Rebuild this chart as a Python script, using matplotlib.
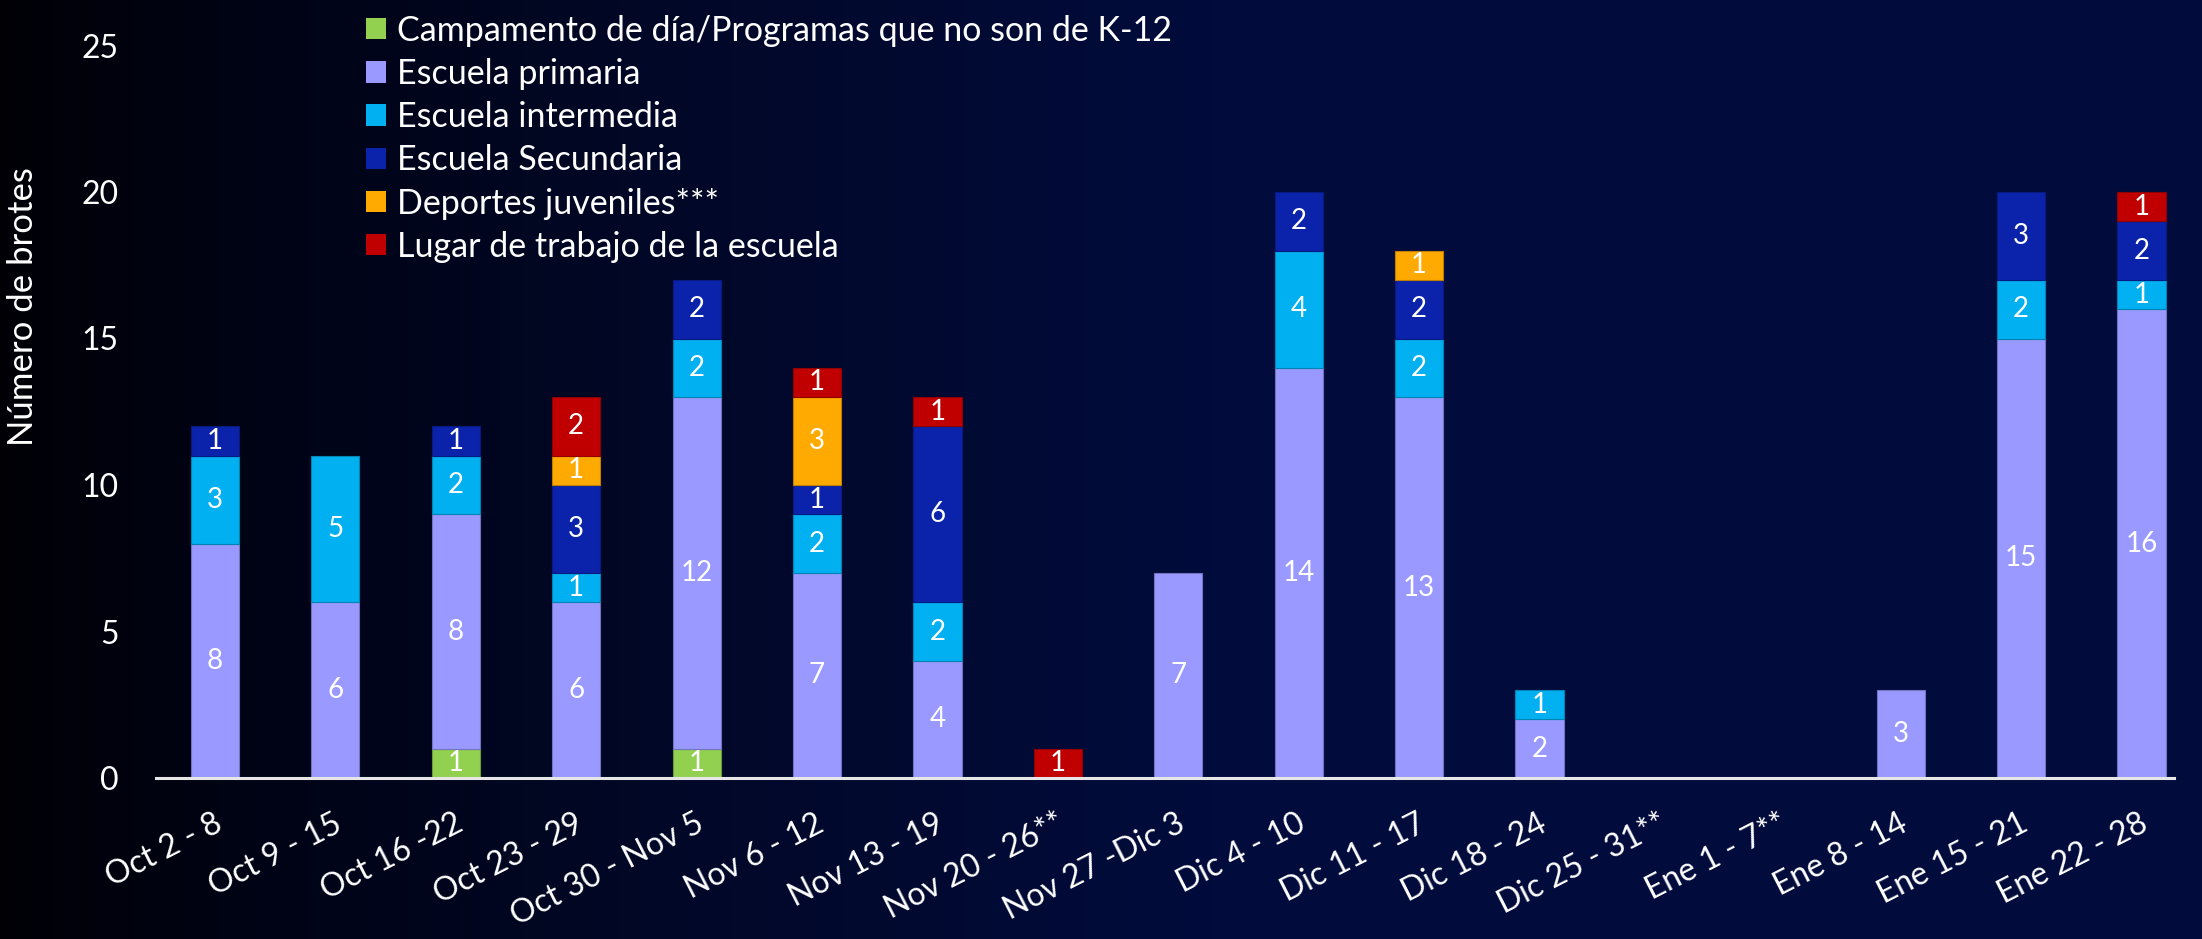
import numpy as np
import matplotlib
matplotlib.use("Agg")
import matplotlib.pyplot as plt
from matplotlib.patches import Patch
from matplotlib.colors import to_rgb
import matplotlib.transforms as mtransforms

categories = ["Oct 2 - 8", "Oct 9 - 15", "Oct 16 -22", "Oct 23 - 29", "Oct 30 - Nov 5",
              "Nov 6 - 12", "Nov 13 - 19", "Nov 20 - 26**", "Nov 27 -Dic 3", "Dic 4 - 10",
              "Dic 11 - 17", "Dic 18 - 24", "Dic 25 - 31**", "Ene 1 - 7**", "Ene 8 - 14",
              "Ene 15 - 21", "Ene 22 - 28"]

campamento = [0, 0, 1, 0, 1, 0, 0, 0, 0, 0, 0, 0, 0, 0, 0, 0, 0]
primaria   = [8, 6, 8, 6, 12, 7, 4, 0, 7, 14, 13, 2, 0, 0, 3, 15, 16]
intermedia = [3, 5, 2, 1, 2, 2, 2, 0, 0, 4, 2, 1, 0, 0, 0, 2, 1]
secundaria = [1, 0, 1, 3, 2, 1, 6, 0, 0, 2, 2, 0, 0, 0, 0, 3, 2]
deportes   = [0, 0, 0, 1, 0, 3, 0, 0, 0, 0, 1, 0, 0, 0, 0, 0, 0]
trabajo    = [0, 0, 0, 2, 0, 1, 1, 1, 0, 0, 0, 0, 0, 0, 0, 0, 1]

series_names = ["Campamento de día/Programas que no son de K-12", "Escuela primaria",
                "Escuela intermedia", "Escuela Secundaria", "Deportes juveniles***",
                "Lugar de trabajo de la escuela"]
series = [campamento, primaria, intermedia, secundaria, deportes, trabajo]
colors = ["#92D050", "#9999FF", "#00B0F0", "#0A23AA", "#FFAA00", "#C00000"]

FONT = "Lato"
W, H = 2202, 939
fig = plt.figure(figsize=(W / 100, H / 100), dpi=100)

# background gradient
bg = fig.add_axes([0, 0, 1, 1], zorder=-10)
bg.axis("off")
xs = np.linspace(0, 1, 600)
t = np.clip(xs / 0.55, 0, 1) ** 0.8
c0 = np.array([0.0, 0.0, 0.02])
c1 = np.array([2, 12, 60]) / 255
grad = c0[None, :] + (c1 - c0)[None, :] * t[:, None]
bg.imshow(grad[None, :, :], aspect="auto", extent=[0, 1, 0, 1])
bg.set_xlim(0, 1); bg.set_ylim(0, 1)

ax = fig.add_axes([156 / W, 1 - 778 / H, (2174 - 156) / W, (778 - 45.5) / H])
ax.set_facecolor("none")

x = np.arange(len(categories))
bottom = np.zeros(len(categories))
handles = []
for name, vals, col in zip(series_names, series, colors):
    vals = np.array(vals, dtype=float)
    edge = tuple(np.array(to_rgb(col)) * 0.75)
    edges = [edge if v > 0 else "none" for v in vals]
    ax.bar(x, vals, width=0.4, bottom=bottom, color=col, edgecolor=edges, linewidth=0.8, zorder=3)
    for xi, v, b in zip(x, vals, bottom):
        if v > 0:
            ax.text(xi, b + v / 2, f"{int(v)}", ha="center", va="center", color="white",
                    fontsize=20, family=FONT, zorder=4)
    bottom += vals
    handles.append(Patch(facecolor=col, edgecolor="none"))

ax.set_ylim(0, 25)
ax.set_xlim(-0.49, 16.27)
ax.set_yticks([0, 5, 10, 15, 20, 25])
ax.tick_params(axis="y", length=0, pad=27, labelsize=23, labelcolor="white")
ax.tick_params(axis="x", length=0, pad=22)
for lab in ax.get_yticklabels():
    lab.set_family(FONT)
ax.set_xticks(x)
ax.set_xticklabels(categories, rotation=27, ha="right", rotation_mode="anchor",
                   fontsize=23, color="white", family=FONT)
offset = mtransforms.ScaledTranslation(-0.02, 0, fig.dpi_scale_trans)
for lab in ax.get_xticklabels():
    lab.set_transform(lab.get_transform() + offset)
for s in ["top", "right", "left"]:
    ax.spines[s].set_visible(False)
ax.spines["bottom"].set_color("#e6e6e6")
ax.spines["bottom"].set_linewidth(2.2)
ax.spines["bottom"].set_zorder(5)

ax.set_ylabel("Número de brotes", fontsize=25, color="white", family=FONT)
ax.yaxis.set_label_coords(-0.058, 0.643)

leg = fig.legend(handles, series_names, loc="upper left", bbox_to_anchor=(352 / W, 1 - 1 / H),
                 frameon=False, labelcolor="white", handlelength=0.59, handleheight=0.59,
                 handletextpad=0.32, labelspacing=0.33, borderaxespad=0,
                 prop={"family": FONT, "size": 24.5})

fig.savefig("out.png", dpi=100)
